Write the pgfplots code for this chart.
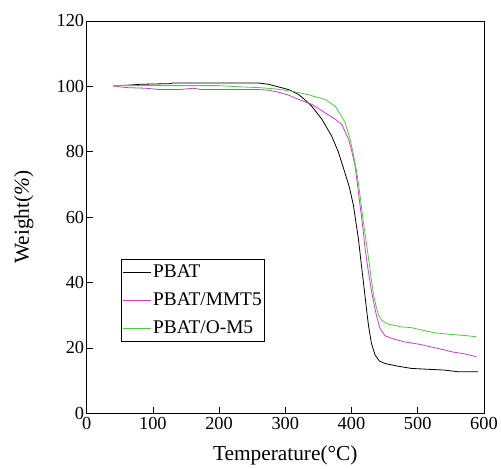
\documentclass[border=0pt]{standalone}
\usepackage{fontspec}
\setmainfont{Liberation Serif}
\usepackage{pgfplots}
\pgfplotsset{compat=1.18}
\usetikzlibrary{calc}
\definecolor{cmag}{RGB}{196,64,196}
\definecolor{cgrn}{RGB}{80,200,64}
\begin{document}
\begin{tikzpicture}
\begin{axis}[
  scale only axis, width=399bp, height=394bp,
  xmin=0, xmax=600, ymin=0, ymax=120,
  xtick={0,100,...,600}, ytick={0,20,...,120},
  xtick pos=left, ytick pos=left,
  tick align=inside, major tick length=6bp,
  tick style={black, line width=0.6pt},
  axis line style={line width=0.8pt},
  /pgf/number format/assume math mode=true,
  ticklabel style={font=\fontsize{18.5}{20}\selectfont},
  xticklabel style={yshift=-1bp},
  yticklabel style={xshift=1bp},
  label style={font=\fontsize{21.5}{24}\selectfont},
  xlabel={Temperature(°C)}, ylabel={Weight({\itshape\%})},
  xlabel style={at={(axis description cs:0.5,-0.1066)}, anchor=center},
  ylabel style={at={(axis description cs:-0.158,0.5)}, anchor=center},
  legend style={at={(0.087,0.393)}, anchor=north west, draw=black, line width=0.6pt,
    font=\fontsize{19.5}{21}\selectfont, inner xsep=1bp, inner ysep=3.5bp, row sep=10bp,
    /tikz/every even column/.append style={column sep=2bp}},
  legend cell align=left,
  legend image code/.code={\draw[#1] (0bp,0bp) -- (28bp,0bp);},
  clip=false,
]
\addplot[color=black, line width=0.8bp] coordinates {
(40,100.2)(60,100.3)(80,100.6)(100,100.7)(125,100.8)(130,101.0)(200,101.0)(260,101.0)(275,100.6)(290,99.8)(305,99.0)(320,97.5)(330,95.8)(340,93.9)(355,90)(370,84.8)(380,80)(390,73.6)(397,69)(403,63.5)(407,58)(410.5,53.3)(414,47)(418,40.1)(422,33)(425.6,26.9)(430,21.5)(435.6,17.8)(442,16)(450.7,15.2)(470,14.4)(490.7,13.7)(520,13.4)(540,13.2)(561,12.7)(591,12.7)};
\addlegendentry{PBAT}
\addplot[color=cmag, line width=0.8bp] coordinates {
(40,100.1)(60,99.6)(90,99.4)(110,99.0)(140,99.0)(160,99.4)(175,99.0)(260,99.0)(275,98.8)(290,98.2)(305,97.3)(320,96)(340,94.5)(360,91.9)(375,90)(385.5,88.3)(395.5,83.8)(400,80.5)(405.5,75.6)(409,70)(413,63.5)(417,57)(420.6,50.3)(425,44)(430.5,37)(437,30.5)(443,25.9)(450.7,23.7)(465,22.6)(480.8,21.8)(505,21)(526,20)(540,19.4)(551,18.8)(570,18.2)(588.5,17.3)};
\addlegendentry{PBAT/MMT5}
\addplot[color=cgrn, line width=0.8bp] coordinates {
(40,100.2)(100,100.2)(200,100.2)(235,99.8)(260,99.6)(285,99.2)(310,98.5)(335,97.4)(360,96)(375.5,93.9)(383,91.5)(390.5,88.8)(398,83.8)(403,79)(408,73.6)(412,68)(415.5,62.4)(419,57)(423,51.3)(427,45.5)(430.5,40.1)(434,35.5)(438,32)(441,30)(445.6,28.4)(455,27.3)(475.6,26.4)(490,26.2)(510,25.3)(526,24.6)(550,24.1)(570,23.8)(588.5,23.4)};
\addlegendentry{PBAT/O-M5}
\coordinate (BL) at (rel axis cs:0,0);
\coordinate (TR) at (rel axis cs:1,1);
\end{axis}
\path[use as bounding box] ($(BL)+(-87bp,-52bp)$) rectangle ($(TR)+(15bp,21bp)$);
\end{tikzpicture}
\end{document}
